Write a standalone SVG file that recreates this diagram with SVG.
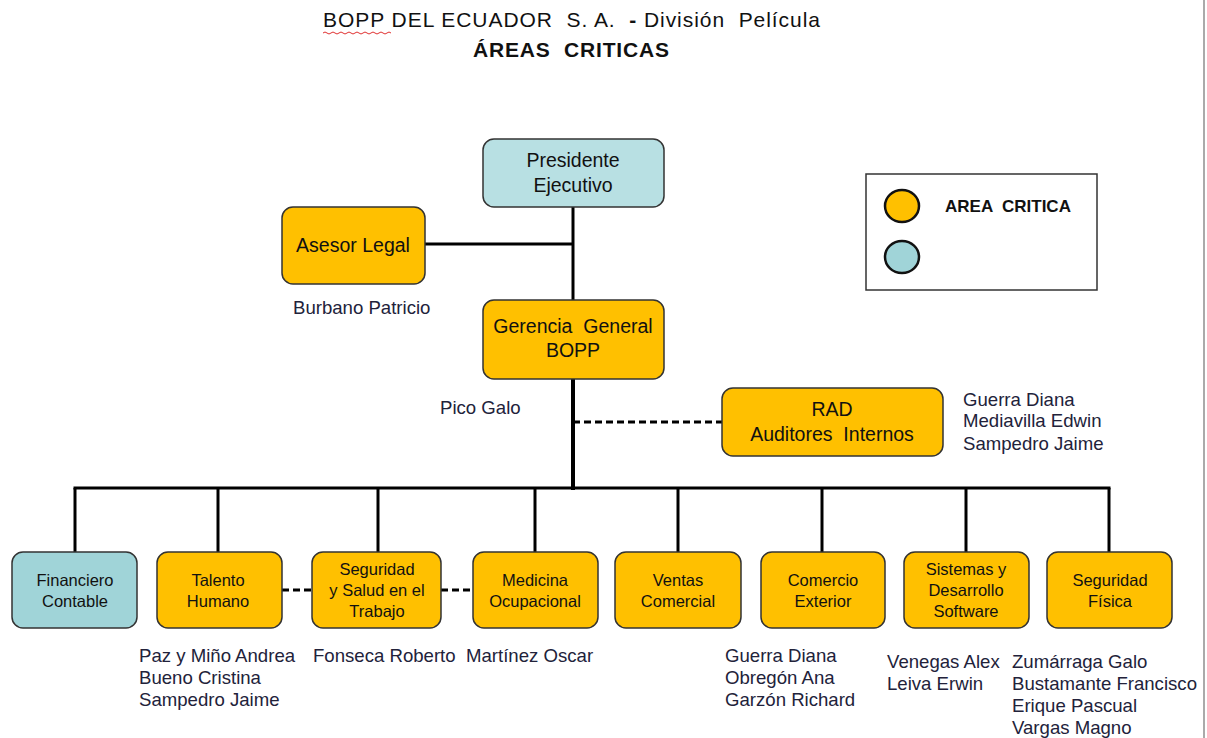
<svg xmlns="http://www.w3.org/2000/svg" width="1207" height="738" viewBox="0 0 1207 738" xml:space="preserve">
<style>
text{font-family:"Liberation Sans",Arial,sans-serif;fill:#111;white-space:pre}
.nb{stroke:#333;stroke-width:1.5}
.or{fill:#FFC000}
.cy{fill:#b8e0e3}
.cy2{fill:#a0d4d8}
.t18{font-size:19.5px;text-anchor:middle}
.t15{font-size:16.5px;text-anchor:middle}
.nm{font-size:18.6px;fill:#22223a}
.ln{stroke:#000;fill:none;stroke-width:3}
.th{stroke:#000;fill:none;stroke-width:4}
.ds{stroke:#000;fill:none;stroke-width:3;stroke-dasharray:7,4}
</style>
<rect width="1207" height="738" fill="#fff"/>
<line x1="1204" y1="0" x2="1204" y2="738" stroke="#aaa" stroke-width="2"/>
<text x="323" y="27" font-size="21" textLength="497" lengthAdjust="spacing">BOPP DEL ECUADOR  S. A.  <tspan font-weight="bold">-</tspan> División  Película</text>
<path d="M323,33 q2,-2 4,0 t4,0 t4,0 t4,0 t4,0 t4,0 t4,0 t4,0 t4,0 t4,0 t4,0 t4,0 t4,0 t4,0 t4,0 t4,0 t4,0" stroke="#e03030" fill="none" stroke-width="1"/>
<text x="473" y="57" font-size="21" font-weight="bold" textLength="196" lengthAdjust="spacing">ÁREAS  CRITICAS</text>

<g id="connectors">
<line class="ln" x1="573" y1="207" x2="573" y2="300"/>
<line class="ln" x1="425" y1="244" x2="573" y2="244"/>
<line class="th" x1="573" y1="379" x2="573" y2="490"/>
<line class="ds" x1="573" y1="422" x2="722" y2="422"/>
<line class="ln" x1="73.5" y1="488" x2="1110.5" y2="488"/>
<line class="ln" x1="75" y1="488" x2="75" y2="552"/>
<line class="ln" x1="218" y1="488" x2="218" y2="552"/>
<line class="ln" x1="378" y1="488" x2="378" y2="552"/>
<line class="ln" x1="535" y1="488" x2="535" y2="552"/>
<line class="ln" x1="678" y1="488" x2="678" y2="552"/>
<line class="ln" x1="822" y1="488" x2="822" y2="552"/>
<line class="ln" x1="966" y1="488" x2="966" y2="552"/>
<line class="ln" x1="1109" y1="488" x2="1109" y2="552"/>
<line class="ds" x1="282" y1="590" x2="312" y2="590"/>
<line class="ds" x1="441" y1="590" x2="473" y2="590"/>
</g>

<g id="presidente">
<rect class="nb cy" x="483" y="139" width="181" height="68" rx="11"/>
<text class="t18" x="573" y="167">Presidente</text>
<text class="t18" x="573" y="192">Ejecutivo</text>
</g>
<g id="asesor">
<rect class="nb or" x="282" y="207" width="143" height="77" rx="11"/>
<text class="t18" x="353" y="252">Asesor Legal</text>
<text class="nm" x="293" y="314">Burbano Patricio</text>
</g>
<g id="gerencia">
<rect class="nb or" x="483" y="300" width="181" height="79" rx="11"/>
<text class="t18" x="573" y="333">Gerencia  General</text>
<text class="t18" x="573" y="357">BOPP</text>
<text class="nm" x="440" y="414">Pico Galo</text>
</g>
<g id="rad">
<rect class="nb or" x="722" y="388" width="221" height="68" rx="11"/>
<text class="t18" x="832" y="416">RAD</text>
<text class="t18" x="832" y="441">Auditores  Internos</text>
<text class="nm" x="963" y="406">Guerra Diana</text>
<text class="nm" x="963" y="427">Mediavilla Edwin</text>
<text class="nm" x="963" y="450">Sampedro Jaime</text>
</g>
<g id="legend">
<rect x="866" y="174" width="231" height="116" fill="#fff" stroke="#333" stroke-width="1.5"/>
<ellipse cx="902" cy="206" rx="17" ry="16" fill="#FFC000" stroke="#111" stroke-width="2.5"/>
<ellipse cx="902" cy="257" rx="17" ry="16" fill="#a0d4d8" stroke="#111" stroke-width="2.5"/>
<text x="945" y="212" font-size="17" font-weight="bold">AREA  CRITICA</text>
</g>

<g id="financiero">
<rect class="nb cy2" x="12" y="552" width="125" height="76" rx="11"/>
<text class="t15" x="75" y="586">Financiero</text>
<text class="t15" x="75" y="607">Contable</text>
</g>
<g id="talento">
<rect class="nb or" x="157" y="552" width="125" height="76" rx="11"/>
<text class="t15" x="218" y="586">Talento</text>
<text class="t15" x="218" y="607">Humano</text>
<text class="nm" x="139" y="662">Paz y Miño Andrea</text>
<text class="nm" x="139" y="684">Bueno Cristina</text>
<text class="nm" x="139" y="706">Sampedro Jaime</text>
</g>
<g id="seguridad-salud">
<rect class="nb or" x="312" y="552" width="129" height="76" rx="11"/>
<text class="t15" x="377" y="575">Seguridad</text>
<text class="t15" x="377" y="596">y Salud en el</text>
<text class="t15" x="377" y="617">Trabajo</text>
<text class="nm" x="313" y="662">Fonseca Roberto</text>
</g>
<g id="medicina">
<rect class="nb or" x="473" y="552" width="125" height="76" rx="11"/>
<text class="t15" x="535" y="586">Medicina</text>
<text class="t15" x="535" y="607">Ocupacional</text>
<text class="nm" x="466" y="662">Martínez Oscar</text>
</g>
<g id="ventas">
<rect class="nb or" x="615" y="552" width="126" height="76" rx="11"/>
<text class="t15" x="678" y="586">Ventas</text>
<text class="t15" x="678" y="607">Comercial</text>
</g>
<g id="comercio">
<rect class="nb or" x="761" y="552" width="124" height="76" rx="11"/>
<text class="t15" x="823" y="586">Comercio</text>
<text class="t15" x="823" y="607">Exterior</text>
<text class="nm" x="725" y="662">Guerra Diana</text>
<text class="nm" x="725" y="684">Obregón Ana</text>
<text class="nm" x="725" y="706">Garzón Richard</text>
</g>
<g id="sistemas">
<rect class="nb or" x="904" y="552" width="125" height="76" rx="11"/>
<text class="t15" x="966" y="575">Sistemas y</text>
<text class="t15" x="966" y="596">Desarrollo</text>
<text class="t15" x="966" y="617">Software</text>
<text class="nm" x="887" y="668">Venegas Alex</text>
<text class="nm" x="887" y="690">Leiva Erwin</text>
</g>
<g id="seguridad-fisica">
<rect class="nb or" x="1047" y="552" width="125" height="76" rx="11"/>
<text class="t15" x="1110" y="586">Seguridad</text>
<text class="t15" x="1110" y="607">Física</text>
<text class="nm" x="1012" y="668">Zumárraga Galo</text>
<text class="nm" x="1012" y="690">Bustamante Francisco</text>
<text class="nm" x="1012" y="712">Erique Pascual</text>
<text class="nm" x="1012" y="734">Vargas Magno</text>
</g>
</svg>
